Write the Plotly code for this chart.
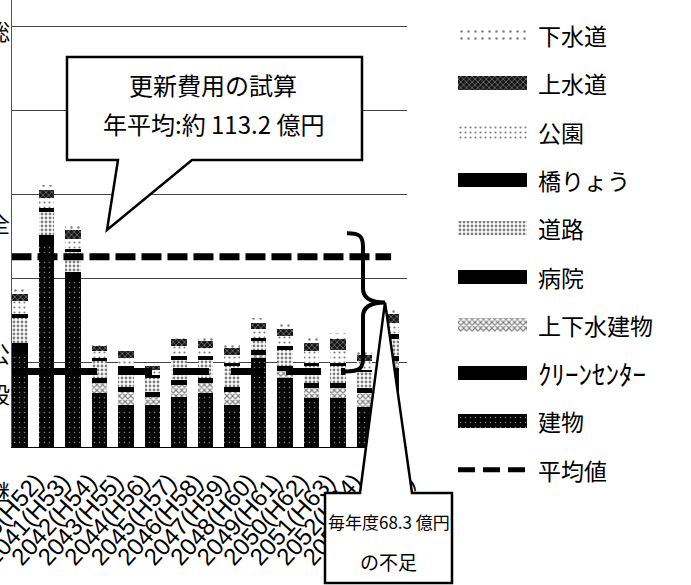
import plotly.graph_objects as go

# ---- data (億円) -------------------------------------------------------
YEARS = [2040, 2041, 2042, 2043, 2044, 2045, 2046, 2047, 2048, 2049, 2050, 2051, 2052, 2053, 2054]
TICK_TEXT = ["2040(H52)", "2041(H53)", "2042(H54)", "2043(H55)", "2044(H56)", "2045(H57)",
             "2046(H58)", "2047(H59)", "2048(H60)", "2049(H61)", "2050(H62)", "2051(H63)",
             "2052(H64)", "2053(H65)", "2054(H66)"]

tatemono = [55, 120, 98, 30, 23, 23, 28, 30, 23, 51, 39, 27, 27, 22, 45]    # 建物
clean_center = [3, 2, 2, 2, 2, 2, 2, 2, 2, 2, 2, 2, 2, 2, 2]                # クリーンセンター
jogesui_tatemono = [0, 0, 0, 6, 8, 5, 7, 6, 8, 2, 4, 6, 6, 8, 4]             # 上下水建物
byoin = [4, 4, 4, 3, 3, 3, 3, 3, 3, 3, 3, 3, 3, 3, 3]                       # 病院
doro = [15, 14, 12, 10, 10, 8, 12, 11, 12, 5, 10, 10, 10, 10, 10]           # 道路
kyoryo = [2, 2, 2, 2, 2, 2, 2, 2, 2, 2, 2, 2, 2, 1, 3]                      # 橋りょう
koen = [8, 6, 6, 4, 5, 3, 6, 5, 5, 5, 6, 7, 8, 5, 7]                        # 公園
josuido = [4, 5, 5, 3, 4, 2, 4, 4, 4, 4, 4, 5, 6, 4, 5]                     # 上水道
gesuido = [4, 3, 3, 2, 2, 2, 3, 2, 3, 3, 3, 3, 4, 3, 4]                     # 下水道

AVG = 113.2          # 平均値
SHORTFALL = 68.3     # 毎年度の不足額
BUDGET = round(AVG - SHORTFALL, 1)

# ---- styles ---------------------------------------------------------------
def pat(bg, fg, shape, size, solidity):
    return dict(color=bg, line=dict(width=0),
                pattern=dict(shape=shape, bgcolor=bg, fgcolor=fg, size=size,
                             solidity=solidity, fillmode="overlay"))

SOLID = dict(color="#000", line=dict(width=0))
SERIES = [  # bottom -> top of the stack
    ("建物", tatemono, pat("#050505", "#fff", ".", 5, 0.07), 23),
    ("ｸﾘｰﾝｾﾝﾀｰ", clean_center, SOLID, 27),
    ("上下水建物", jogesui_tatemono, pat("#fff", "#000", "x", 4, 0.5), 23),
    ("病院", byoin, SOLID, 23),
    ("道路", doro, pat("#fff", "#000", ".", 4, 0.4), 23),
    ("橋りょう", kyoryo, SOLID, 23),
    ("公園", koen, pat("#fff", "#000", ".", 5, 0.15), 23),
    ("上水道", josuido, pat("#151515", "#fff", "x", 4, 0.3), 23),
    ("下水道", gesuido, pat("#fff", "#000", ".", 7, 0.1), 23),
]

JP = "Noto Sans CJK JP"
W, H = 691, 585
L_M = 12
PLOT_R = 407          # right edge of the chart area (px)
BASE_Y = 447          # bottom edge of the chart area (px)
X0, X1 = 2039.70, 2054.60
Y1 = 266

PW = W - L_M


def px(x, y):
    """page pixel -> paper coordinates"""
    return (x - L_M) / PW, (H - y) / H


def y_page(v):
    return BASE_Y - v * BASE_Y / Y1


def label(x, y, text, size, **kw):
    u, v = px(x, y)
    fig.add_annotation(x=u, y=v, xref="paper", yref="paper", text=text, showarrow=False,
                       xanchor=kw.get("xanchor", "center"), yanchor="middle",
                       font=dict(family=JP, size=size, color="#000"))


fig = go.Figure()

for name, vals, marker, _ in SERIES:
    fig.add_trace(go.Bar(x=YEARS, y=vals, name=name, marker=marker,
                         showlegend=False, xaxis="x", yaxis="y"))

# average line
fig.add_trace(go.Scatter(x=[X0 - 1, YEARS[-1]], y=[AVG, AVG], mode="lines",
                         line=dict(color="#000", width=7, dash="20px,6px"),
                         showlegend=False, xaxis="x", yaxis="y"))

# brace geometry (tied to the average and the budget level)
brace_top = y_page(AVG + 14)
brace_bot = y_page(BUDGET)
brace_mid = (brace_top + brace_bot) / 2
bx_left, bx_stem, bx_tip = 345, 363, 385
brace_left_year = X0 + (bx_left - L_M) * (X1 - X0) / (PLOT_R - L_M)

# available budget level
fig.add_trace(go.Scatter(x=[X0, brace_left_year], y=[BUDGET, BUDGET], mode="lines",
                         line=dict(color="#000", width=7,
                                   dash="85px,21px,34px,21px,36px,22px,33px,22px,35px,20px,30px"),
                         showlegend=False, xaxis="x", yaxis="y"))

# ---- legend drawn as its own small panel ----------------------------------
LEGEND_TOP, LEGEND_STEP = 35, 48.3
legend_order = list(reversed(SERIES))
for i, (name, vals, marker, fsize) in enumerate(legend_order):
    ry = LEGEND_TOP + i * LEGEND_STEP
    fig.add_trace(go.Bar(x=[1], y=[ry], base=0, orientation="h", width=14,
                         marker=marker, showlegend=False, xaxis="x2", yaxis="y2"))
    fig.add_annotation(x=1, y=ry, xref="x2", yref="y2", text=name, showarrow=False,
                       xanchor="left", yanchor="middle", xshift=9,
                       font=dict(family=JP, size=fsize, color="#000"))
ry = LEGEND_TOP + len(legend_order) * LEGEND_STEP
fig.add_trace(go.Scatter(x=[0, 1], y=[ry, ry], mode="lines",
                         line=dict(color="#000", width=5, dash="17px,8px"),
                         showlegend=False, xaxis="x2", yaxis="y2"))
fig.add_annotation(x=1, y=ry, xref="x2", yref="y2", text="平均値", showarrow=False,
                   xanchor="left", yanchor="middle", xshift=9,
                   font=dict(family=JP, size=23, color="#000"))

# ---- callouts -------------------------------------------------------------
def path(points):
    s = ""
    for i, (x, y) in enumerate(points):
        u, v = px(x, y)
        s += ("M" if i == 0 else "L") + f"{u:.5f},{v:.5f} "
    return s + "Z"


fig.add_shape(type="path", xref="paper", yref="paper", layer="above",
              path=path([(67, 57), (362, 57), (362, 160), (192, 160), (107, 230),
                         (118, 160), (67, 160)]),
              fillcolor="#fff", line=dict(color="#000", width=2.5))
label(213, 84, "更新費用の試算", 24)
label(213, 123, f"年平均:約 {AVG} 億円", 24)

fig.add_shape(type="path", xref="paper", yref="paper", layer="above",
              path=path([(325, 493), (360, 493), (bx_tip, brace_mid), (412, 493),
                         (452, 493), (452, 583), (325, 583)]),
              fillcolor="#fff", line=dict(color="#000", width=2.5))
label(389, 521, f"毎年度{SHORTFALL} 億円", 17)
label(388, 561, "の不足", 19)

# curly brace marking the shortfall
def P(x, y):
    a, b = px(x, y)
    return f"{a:.5f},{b:.5f}"


t, m, b_ = brace_top, brace_mid, brace_bot
brace = (f"M{P(bx_left + 2, t)} C{P(bx_stem - 3, t)} {P(bx_stem, t + 3)} {P(bx_stem, t + 14)} "
         f"L{P(bx_stem, m - 14)} C{P(bx_stem, m - 4)} {P(bx_stem + 8, m)} {P(bx_tip, m)} "
         f"C{P(bx_stem + 8, m)} {P(bx_stem, m + 4)} {P(bx_stem, m + 14)} "
         f"L{P(bx_stem, b_ - 14)} C{P(bx_stem, b_ - 3)} {P(bx_stem - 3, b_)} {P(bx_left, b_)}")
fig.add_shape(type="path", xref="paper", yref="paper", layer="above", path=brace,
              line=dict(color="#000", width=4))

# fragments of the neighbouring body text at the left edge
for ch, yy in [("総", 30), ("全", 222), ("公", 352), ("設", 393), ("継", 490)]:
    label(-1, yy, ch, 22)

fig.update_layout(
    width=W, height=H,
    margin=dict(l=L_M, r=0, t=0, b=0),
    paper_bgcolor="#fff", plot_bgcolor="#fff",
    barmode="stack", bargap=0.42,
    showlegend=False,
    xaxis=dict(domain=[0, (PLOT_R - L_M) / PW], range=[X0, X1],
               tickvals=YEARS, ticktext=TICK_TEXT, tickangle=-48,
               tickfont=dict(family="Liberation Sans", size=24, color="#000"),
               ticks="", ticklabelstandoff=10, ticklabelshift=16,
               ticklabeloverflow="allow", showgrid=False, zeroline=False,
               showline=True, linecolor="#000", linewidth=1, automargin=False),
    yaxis=dict(domain=[(H - BASE_Y) / H, 1], range=[0, Y1], dtick=50,
               showticklabels=False, showgrid=True, gridcolor="#444", gridwidth=1,
               zeroline=False, showline=True, linecolor="#555", linewidth=1,
               automargin=False),
    xaxis2=dict(domain=[(458 - L_M) / PW, (527 - L_M) / PW], range=[0, 1],
                visible=False, anchor="y2"),
    yaxis2=dict(domain=[0, 1], range=[H, 0], visible=False, anchor="x2"),
)

fig.write_html("out.html")
